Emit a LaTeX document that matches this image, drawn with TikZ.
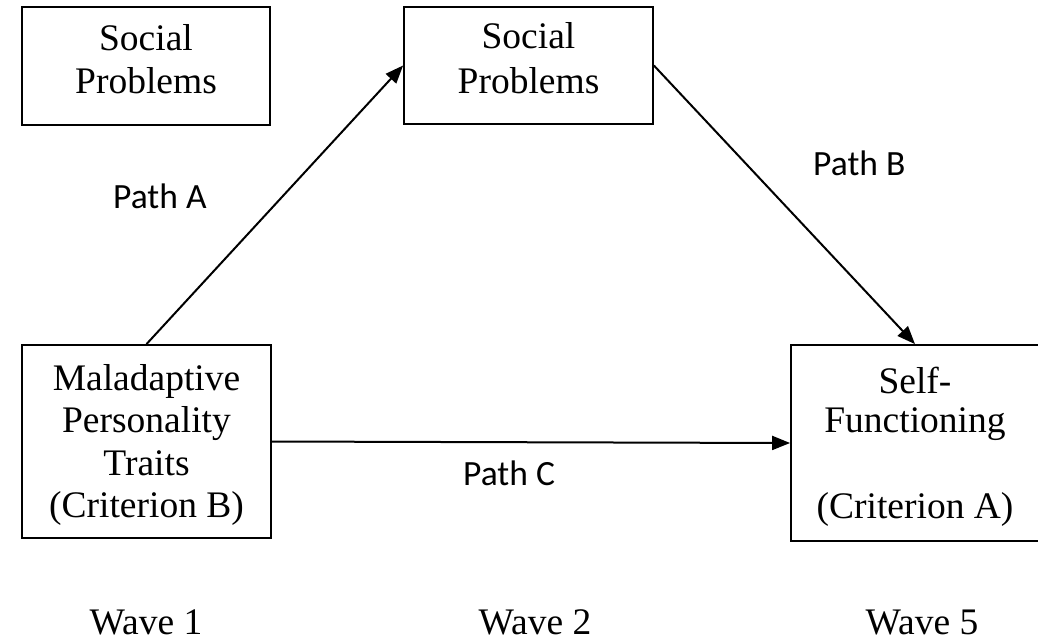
\documentclass[tikz,border=0pt]{standalone}
\usepackage{fontspec}
\setmainfont{Liberation Serif}
\newfontfamily\pathfont{Carlito}
\usetikzlibrary{arrows.meta}
\begin{document}
\begin{tikzpicture}[x=1pt,y=-1pt,
  box/.style={draw,line width=1.8pt,rectangle,inner sep=0pt},
  txt/.style={font=\fontsize{37.5}{45}\selectfont,anchor=base,inner sep=0pt},
  lbl/.style={font=\pathfont\fontsize{35.5}{42}\selectfont,anchor=base west,inner sep=0pt},
  arr/.style={line width=2pt,-{Triangle[length=18pt,width=14pt]}}]
\useasboundingbox (0,0) rectangle (1038,641);
\clip (0,0) rectangle (1038,641);
% boxes
\node[box,minimum width=248pt,minimum height=118pt] (sp1) at (146,66) {};
\node[box,minimum width=249pt,minimum height=117pt] (sp2) at (528.5,65.5) {};
\node[box,minimum width=249pt,minimum height=193pt] (mpt) at (146.5,441.5) {};
\node[box,minimum width=248pt,minimum height=196pt] (sf) at (915,443) {};
% box texts
\node[txt] (t1a) at (146,50) {Social};
\node[txt] (t1b) at (146,93) {Problems};
\node[txt] (t2a) at (528.5,48) {Social};
\node[txt] (t2b) at (528.5,93) {Problems};
\node[txt] (t3a) at (146.5,390) {Maladaptive};
\node[txt] (t3b) at (146.5,432) {Personality};
\node[txt] (t3c) at (146.5,475) {Traits};
\node[txt] (t3d) at (146.5,517) {(Criterion B)};
\node[txt] (t4a) at (915,393) {Self-};
\node[txt] (t4b) at (915,432) {Functioning};
\node[txt] (t4c) at (915,518) {(Criterion A)};
% arrows
\draw[arr] (mpt.north) -- (sp2.west);
\draw[arr] (sp2.east) -- (sf.north);
\draw[arr] (mpt.east) -- (sf.west);
% path labels
\node[lbl] (pa) at (113,208) {Path A};
\node[lbl] (pb) at (813,175) {Path B};
\node[lbl] (pc) at (463,485) {Path C};
% waves
\node[txt] (w1) at (146,634) {Wave 1};
\node[txt] (w2) at (535,634) {Wave 2};
\node[txt] (w5) at (922,634) {Wave 5};
\end{tikzpicture}
\end{document}
